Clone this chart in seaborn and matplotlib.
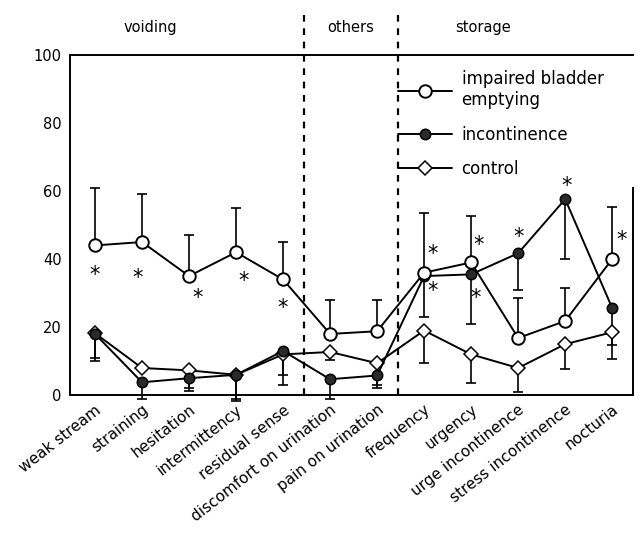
import numpy as np
import pandas as pd
import matplotlib
matplotlib.use('Agg')
import matplotlib.pyplot as plt
import seaborn as sns

sns.set_theme(style='white')
plt.rcParams['font.family'] = ['DejaVu Sans']
plt.rcParams.update({'text.color': 'black', 'xtick.color': 'black', 'ytick.color': 'black'})

# Datos (porcentajes)
categories = ['weak stream', 'straining', 'hesitation', 'intermittency', 'residual sense',
              'discomfort on urination', 'pain on urination', 'frequency', 'urgency',
              'urge incontinence', 'stress incontinence', 'nocturia']
impaired = [44, 45, 35, 42, 34, 18, 18.8, 36, 39, 16.8, 21.8, 40]
impaired_upper = [61, 59, 47, 55, 45, 28, 28, 53.5, 52.6, 28.5, 31.5, 55.3]
incontinence = [18, 3.8, 5, 6, 13, 4.7, 5.8, 35, 35.5, 41.7, 57.6, 25.6]
incontinence_lower = [10, -1, 1.3, -1.8, 3, -1, 2, 23, 21, 31, 40, 14.7]
control = [18.2, 8, 7.3, 6, 12, 12.7, 9.4, 19, 12, 8, 15, 18.5]
control_lower = [11, 8, 2.2, -1, 6, 10.3, 3, 9.4, 3.5, 1, 7.6, 10.5]

# asteriscos de significancia (posicion en categoria, valor)
star_x = [0, 0.9, 2.19, 3.15, 4.0, 7.17, 7.19, 8.15, 8.09, 9.0, 10.02, 11.2]
star_y = [36.8, 36, 30, 35, 27, 43, 32, 45.6, 30, 48, 63, 47]

groups = ['voiding', 'others', 'storage']
group_x = [1.17, 5.43, 8.26]
dividers = [4.45, 6.45]

df = pd.DataFrame({
    'pos': np.arange(len(categories)),
    'impaired': impaired,
    'incontinence': incontinence,
    'control': control,
})

fig = plt.figure(figsize=(6.43, 5.37), dpi=100)
ax = fig.add_axes([0.109, 0.264, 0.876, 0.634])

pos = df['pos'].values
lw = 1.4

# barras de error de un solo lado
eb_kw = dict(fmt='none', ecolor='black', elinewidth=1.2, capsize=3.5, capthick=1.2, zorder=2)
for yv, lo, up in [
    (df['impaired'].values, None, np.array(impaired_upper)),
    (df['incontinence'].values, np.array(incontinence_lower), None),
    (df['control'].values, np.array(control_lower), None),
]:
    if up is not None:
        yerr = [np.zeros_like(yv, dtype=float), up - yv]
    else:
        yerr = [yv - lo, np.zeros_like(yv, dtype=float)]
    eb = ax.errorbar(pos, yv, yerr=yerr, **eb_kw)
    for art in eb.lines[1] + eb.lines[2]:
        art.set_clip_on(False)

sns.lineplot(data=df, x='pos', y='control', ax=ax, color='black', linewidth=lw,
             marker='D', markersize=7, markerfacecolor='white', markeredgecolor='black',
             markeredgewidth=1.1, label='control', zorder=3, clip_on=False)
sns.lineplot(data=df, x='pos', y='incontinence', ax=ax, color='black', linewidth=lw,
             marker='o', markersize=7.5, markerfacecolor='#2a2a2a', markeredgecolor='black',
             markeredgewidth=1.1, label='incontinence', zorder=4, clip_on=False)
sns.lineplot(data=df, x='pos', y='impaired', ax=ax, color='black', linewidth=lw,
             marker='o', markersize=9, markerfacecolor='white', markeredgecolor='black',
             markeredgewidth=1.4, label='impaired bladder\nemptying', zorder=5, clip_on=False)

for sx, sy in zip(star_x, star_y):
    ax.text(sx, sy - 1.5, '*', ha='center', va='center', fontsize=15, color='black')

# lineas divisorias y encabezados
for dx in dividers:
    ax.plot([dx, dx], [0, 113], color='black', linewidth=1.6, linestyle=(0, (3, 3)),
             clip_on=False, zorder=1)
for gx, g in zip(group_x, groups):
    ax.text(gx, 108, g, ha='center', va='center', fontsize=10.5, color='black', clip_on=False)

ax.set_xlim(-0.53, 11.45)
ax.set_ylim(0, 100)
ax.set_yticks([0, 20, 40, 60, 80, 100])
ax.set_xticks(pos)
ax.set_xticklabels(categories, rotation=38, ha='right', rotation_mode='anchor', fontsize=11)
ax.tick_params(axis='y', labelsize=10.5, length=0, pad=6)
ax.tick_params(axis='x', length=0, pad=5)
ax.set_xlabel('')
ax.set_ylabel('')

for s in ax.spines.values():
    s.set_color('black')
    s.set_linewidth(1.4)
ax.spines['right'].set_bounds(0, 61)

handles, labels = ax.get_legend_handles_labels()
order = [labels.index('impaired bladder\nemptying'), labels.index('incontinence'), labels.index('control')]
ax.legend([handles[i] for i in order], [labels[i] for i in order],
          loc='upper left', bbox_to_anchor=(0.5826, 0.955), frameon=False,
          fontsize=12, handlelength=3.2, handletextpad=0.6, labelspacing=1.0,
          borderpad=0, borderaxespad=0, labelcolor='black')

fig.savefig('out.png', dpi=100)
